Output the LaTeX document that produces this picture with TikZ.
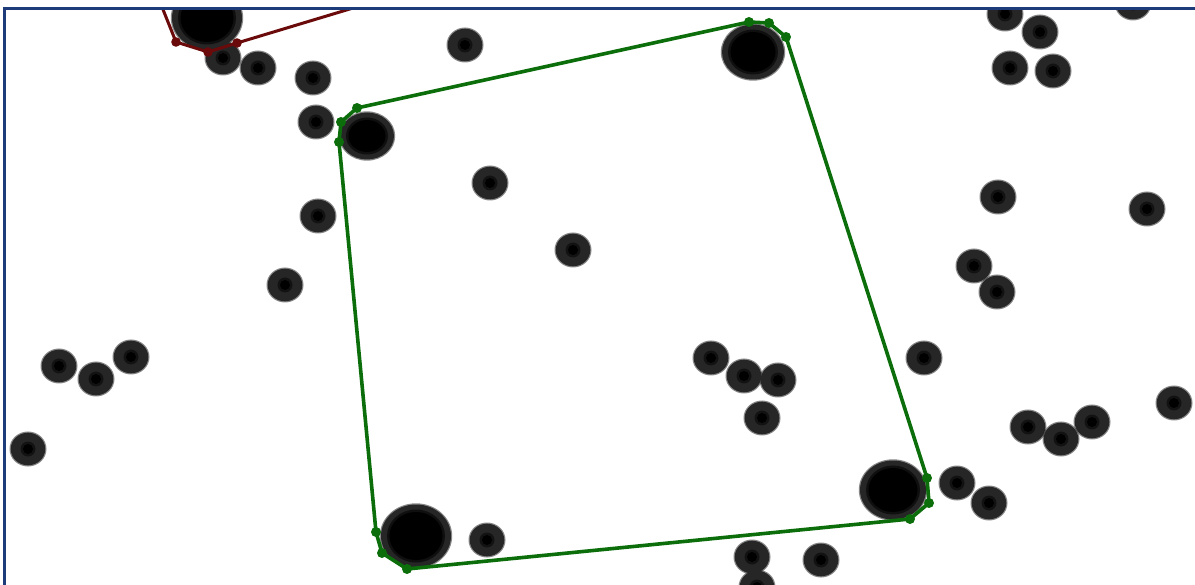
\documentclass[tikz,border=0pt]{standalone}
\definecolor{frameblue}{HTML}{1F3C7A}
\definecolor{polygreen}{HTML}{0B6E0B}
\definecolor{polyred}{HTML}{6B0A0A}
\definecolor{dotgray}{HTML}{262626}
\tikzset{
  halo/.style={fill=dotgray,opacity=0.55},
  ring/.style={fill=dotgray},
  core/.style={fill=black},
  greenline/.style={draw=polygreen,line width=3.6pt,line join=round},
  redline/.style={draw=polyred,line width=3pt,line join=round},
  greenvtx/.style={fill=polygreen},
  redvtx/.style={fill=polyred},
  framebar/.style={draw=frameblue,line width=3pt}
}
\begin{document}
\begin{tikzpicture}[x=1pt,y=-1pt]
\useasboundingbox (0,0) rectangle (1195,585);
\fill[white] (0,0) rectangle (1195,585);
\begin{scope}
\clip (5.8,9.8) rectangle (1195,585);
% small dots
\foreach \x/\y in {465/45,223/58,258/68,313/78,316/122,490/183,318/216,573/250,285/285,
  59/366,96/379,131/357,28/449,711/358,744/376,778/380,762/418,924/358,
  1005/14,1040/32,1010/68,1053/71,1133/3,998/197,1147/209,974/266,997/292,
  1174/403,1028/427,1061/439,1092/422,957/483,989/503,487/540,752/557,821/560,757/587}{
  \fill[halo] (\x,\y) ellipse (18.5 and 17.5);
  \fill[ring] (\x,\y) ellipse (17.3 and 16.3);
  \fill[black,opacity=0.5] (\x,\y) circle (7.5);
  \fill[core] (\x,\y) circle (5);
}
% large dots
\foreach \x/\y/\r in {207/18/34,753/52/30,367/136/26,893/490/32,416/536/34}{
  \fill[halo] (\x,\y) ellipse ({\r+2.2} and {\r-1.3});
  \fill[ring] (\x,\y) ellipse ({\r+1} and {\r-2.5});
  \fill[black,opacity=0.6] (\x,\y) ellipse ({\r-5} and {\r-7.5});
  \fill[core] (\x,\y) ellipse ({\r-7.5} and {\r-10});
}
% red polygon
\coordinate (r0) at (158,-3);
\coordinate (r1) at (176,42);
\coordinate (r2) at (208,52);
\coordinate (r3) at (237,43);
\coordinate (r4) at (373,2);
\draw[redline] (r0) -- (r1) -- (r2) -- (r3) -- (r4);
\foreach \p in {r1,r2,r3}{\fill[redvtx] (\p) circle (4.8);}
% green polygon
\coordinate (g1) at (357,108);
\coordinate (g2) at (749,22);
\coordinate (g3) at (769,23);
\coordinate (g4) at (786,37);
\coordinate (g5) at (927,478);
\coordinate (g6) at (929,503);
\coordinate (g7) at (910,519);
\coordinate (g8) at (407,569);
\coordinate (g9) at (382,553);
\coordinate (g10) at (376,532);
\coordinate (g11) at (339,142);
\coordinate (g12) at (341,122);
\draw[greenline] (g1) -- (g2) -- (g3) -- (g4) -- (g5) -- (g6) -- (g7) -- (g8) -- (g9) -- (g10) -- (g11) -- (g12) -- cycle;
\foreach \p in {g1,g2,g3,g4,g5,g6,g7,g8,g9,g10,g11,g12}{\fill[greenvtx] (\p) circle (5);}
\end{scope}
% frame
\draw[framebar] (4.6,585) -- (4.6,8.6) -- (1195,8.6);
\end{tikzpicture}
\end{document}
